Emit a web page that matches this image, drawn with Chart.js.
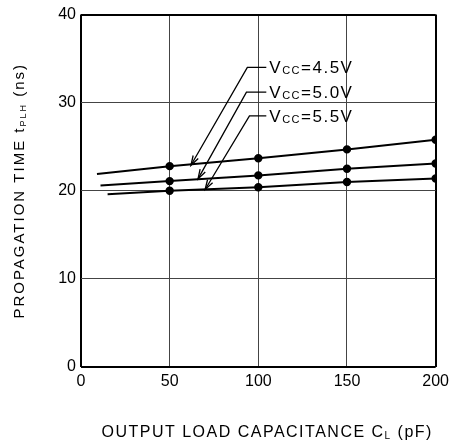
<!DOCTYPE html>
<html>
<head>
<meta charset="utf-8">
<script src="https://cdn.jsdelivr.net/npm/chart.js@4.4.1/dist/chart.umd.min.js"></script>
<style>
  html, body { margin: 0; padding: 0; background: #fff; }
  #wrap { width: 454px; height: 443px; }
</style>
</head>
<body>
<div id="wrap"><canvas id="plhChart" width="454" height="443"></canvas></div>
<script>
// values
const xTicks = [0, 50, 100, 150, 200];
const yTicks = [0, 10, 20, 30, 40];
const vccLabels = ['4.5V', '5.0V', '5.5V'];

const load45 = [9, 50, 100, 150, 200];
const tplh45 = [21.9, 22.8, 23.7, 24.7, 25.8];
const load50 = [11, 50, 100, 150, 200];
const tplh50 = [20.6, 21.1, 21.75, 22.5, 23.1];
const load55 = [15, 50, 100, 150, 200];
const tplh55 = [19.6, 20.0, 20.4, 21.0, 21.4];

// callout arrows, in data units (pF, ns)
const callouts = [
    { tip: [62, 22.9], elbow: [93.8, 34.0], end: 104.5 },
    { tip: [66, 21.35], elbow: [93.3, 31.2], end: 104.5 },
    { tip: [70, 20.15], elbow: [95, 28.5], end: 104.5 }
];

// pick a narrow face for digits if one is installed
function hasFont(name) {
    const c = document.createElement('canvas').getContext('2d');
    c.font = '40px monospace';
    const a = c.measureText('0123456789OOO').width;
    c.font = '40px "' + name + '", monospace';
    return c.measureText('0123456789OOO').width !== a;
}
const narrowOk = hasFont('Liberation Sans Narrow');
const tickFamily = narrowOk ? '"Liberation Sans Narrow"' : '"Liberation Sans"';
const tickSize = narrowOk ? 17 : 16;
const textFamily = '"Liberation Sans", Arial, sans-serif';

function series(xs, ys) {
    return xs.map((x, i) => ({ x: x, y: ys[i] }));
}

function lineSet(label, xs, ys) {
    return {
        label: label,
        data: series(xs, ys),
        borderColor: '#000',
        backgroundColor: '#000',
        borderWidth: 2,
        pointRadius: xs.map((x, i) => i === 0 ? 0 : 3.2),
        pointHoverRadius: 0,
        tension: 0
    };
}

// draw text made of pieces, some of them subscripts
function richText(ctx, parts, x, y, align) {
    let total = 0;
    parts.forEach(p => {
        ctx.font = p.size + 'px ' + textFamily;
        p.w = ctx.measureText(p.t).width;
        total += p.w;
    });
    let cx = align === 'center' ? x - total / 2 : x;
    parts.forEach(p => {
        ctx.font = p.size + 'px ' + textFamily;
        ctx.fillText(p.t, cx, y + (p.dy || 0));
        cx += p.w;
    });
}

const annotations = {
    id: 'annotations',
    afterDatasetsDraw(chart) {
        const ctx = chart.ctx;
        const xs = chart.scales.x;
        const ys = chart.scales.y;
        ctx.save();
        ctx.strokeStyle = '#000';
        ctx.fillStyle = '#000';
        ctx.lineWidth = 1.3;
        ctx.textAlign = 'left';
        ctx.textBaseline = 'alphabetic';

        callouts.forEach((c, i) => {
            const tx = xs.getPixelForValue(c.tip[0]);
            const ty = ys.getPixelForValue(c.tip[1]);
            const ex = xs.getPixelForValue(c.elbow[0]);
            const ey = ys.getPixelForValue(c.elbow[1]);
            const hx = xs.getPixelForValue(c.end);

            ctx.beginPath();
            ctx.moveTo(hx, ey);
            ctx.lineTo(ex, ey);
            ctx.lineTo(tx, ty);
            ctx.stroke();

            // open arrow head
            const ang = Math.atan2(ty - ey, tx - ex);
            const len = 10;
            ctx.beginPath();
            ctx.moveTo(tx - len * Math.cos(ang - 0.3), ty - len * Math.sin(ang - 0.3));
            ctx.lineTo(tx, ty);
            ctx.lineTo(tx - len * Math.cos(ang + 0.3), ty - len * Math.sin(ang + 0.3));
            ctx.stroke();

            ctx.letterSpacing = '1.5px';
            richText(ctx, [
                { t: 'V', size: 17 },
                { t: 'CC', size: 11, dy: 1 },
                { t: '=' + vccLabels[i], size: 17 }
            ], hx + 3, ey + 6, 'left');
        });

        // axis titles with subscripts
        ctx.letterSpacing = '1.5px';
        richText(ctx, [
            { t: 'OUTPUT LOAD CAPACITANCE C', size: 16 },
            { t: 'L', size: 10, dy: 2 },
            { t: ' (pF)', size: 16 }
        ], xs.getPixelForValue(105), chart.height - 6, 'center');

        ctx.translate(23.5, ys.getPixelForValue(20));
        ctx.rotate(-Math.PI / 2);
        ctx.letterSpacing = '2px';
        richText(ctx, [
            { t: 'PROPAGATION TIME t', size: 15 },
            { t: 'PLH', size: 9, dy: 2 },
            { t: ' (ns)', size: 15 }
        ], 0, 0, 'center');
        ctx.restore();
    }
};

function edgeWidth(lo, hi) {
    return ctx => (ctx.tick && (ctx.tick.value === lo || ctx.tick.value === hi)) ? 2 : 1;
}

new Chart(document.getElementById('plhChart'), {
    type: 'line',
    data: {
        datasets: [
            lineSet('VCC=4.5V', load45, tplh45),
            lineSet('VCC=5.0V', load50, tplh50),
            lineSet('VCC=5.5V', load55, tplh55)
        ]
    },
    options: {
        responsive: false,
        animation: false,
        events: [],
        layout: { padding: { top: 14, right: 17, left: 0, bottom: 0 } },
        plugins: {
            legend: { display: false },
            tooltip: { enabled: false }
        },
        scales: {
            x: {
                type: 'linear',
                min: xTicks[0],
                max: xTicks[xTicks.length - 1],
                afterBuildTicks: s => { s.ticks = xTicks.map(v => ({ value: v })); },
                afterFit: s => { s.height = 76; },
                border: { display: false },
                grid: {
                    color: ctx => (ctx.tick && (ctx.tick.value === 0 || ctx.tick.value === 200)) ? '#000' : '#444',
                    lineWidth: edgeWidth(0, 200),
                    drawTicks: false
                },
                ticks: {
                    padding: 5,
                    color: '#000',
                    maxRotation: 0,
                    font: { family: tickFamily, size: tickSize }
                }
            },
            y: {
                min: yTicks[0],
                max: yTicks[yTicks.length - 1],
                afterBuildTicks: s => { s.ticks = yTicks.map(v => ({ value: v })); },
                afterFit: s => { s.width = 81; },
                border: { display: false },
                grid: {
                    color: ctx => (ctx.tick && (ctx.tick.value === 0 || ctx.tick.value === 40)) ? '#000' : '#444',
                    lineWidth: edgeWidth(0, 40),
                    drawTicks: false
                },
                ticks: {
                    padding: 5,
                    color: '#000',
                    font: { family: tickFamily, size: tickSize }
                }
            }
        }
    },
    plugins: [annotations]
});
</script>
</body>
</html>
